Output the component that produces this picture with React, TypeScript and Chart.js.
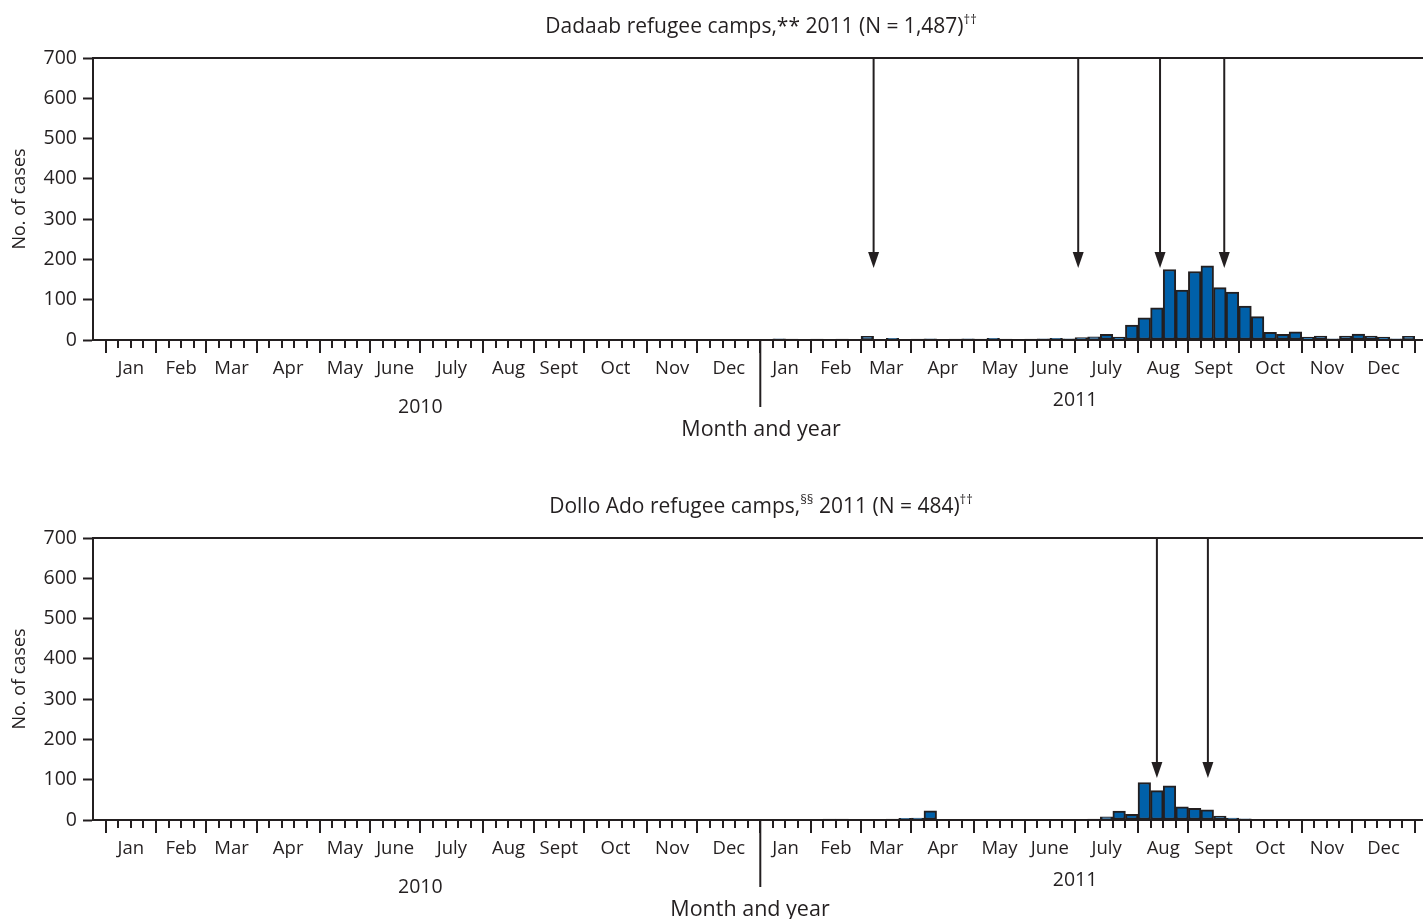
import React, { useEffect, useRef } from 'react';
import { Chart, registerables } from 'chart.js';

Chart.register(...registerables);

const MONTHS = ['Jan', 'Feb', 'Mar', 'Apr', 'May', 'June', 'July', 'Aug', 'Sept', 'Oct', 'Nov', 'Dec'];
const WEEKS_PER_MONTH = [4, 4, 4, 5, 4, 4, 5, 4, 4, 5, 4, 5];
const YEARS = ['2010', '2011'];
const Y_MAX = 700;
const Y_STEP = 100;

// weekly case counts (52 weeks per year)
const DADAAB_2010 = [
  0, 0, 0, 0, 0, 0, 0, 0, 0, 0, 0, 0, 0, 0, 0, 0, 0, 0, 0, 0, 0, 0, 0, 0, 0, 0,
  0, 0, 0, 0, 0, 0, 0, 0, 0, 0, 0, 0, 0, 0, 0, 0, 0, 0, 0, 0, 0, 0, 0, 0, 0, 0,
];
const DADAAB_2011 = [
  0, 3, 2, 1, 2, 1, 2, 1, 9, 1, 4, 1, 2, 3, 1, 2, 3, 2, 4, 2, 1, 2, 3, 4, 3, 6,
  8, 14, 7, 37, 55, 80, 175, 124, 170, 184, 130, 119, 84, 58, 19, 14, 20, 7, 10, 3, 10, 15, 10, 7, 3, 9,
];
const DOLLO_2010 = [
  0, 0, 0, 0, 0, 0, 0, 0, 0, 0, 0, 0, 0, 0, 0, 0, 0, 0, 0, 0, 0, 0, 0, 0, 0, 0,
  0, 0, 0, 0, 0, 0, 0, 0, 0, 0, 0, 0, 0, 0, 0, 0, 0, 0, 0, 0, 0, 0, 0, 0, 0, 0,
];
const DOLLO_2011 = [
  0, 0, 0, 1, 0, 2, 2, 0, 0, 0, 2, 4, 5, 23, 0, 0, 0, 0, 0, 0, 0, 0, 0, 0, 0, 0,
  2, 8, 22, 14, 93, 73, 85, 33, 29, 25, 10, 5, 3, 1, 0, 0, 0, 0, 0, 1, 1, 0, 0, 0, 0, 0,
];

// arrow markers: position in week slots (slot 0 = week before Jan 2010), tip value
const DADAAB_ARROW_WEEKS = [61.5, 77.75, 84.25, 89.35];
const DADAAB_ARROW_TIP = 179;
const DOLLO_ARROW_WEEKS = [84.0, 88.05];
const DOLLO_ARROW_TIP = 104;

const INK = '#231f20';
const BAR_FILL = '#0060a9';
const FONT = '"Open Sans", "DejaVu Sans", sans-serif';

type Part = { t: string; sup?: boolean };

const DADAAB_TITLE: Part[] = [
  { t: 'Dadaab refugee camps,**' },
  { t: ' 2011 (N = 1,487)' },
  { t: '††', sup: true },
];
const DOLLO_TITLE: Part[] = [
  { t: 'Dollo Ado refugee camps,' },
  { t: '§§', sup: true },
  { t: ' 2011 (N = 484)' },
  { t: '††', sup: true },
];

function buildSeries(y2010: number[], y2011: number[]) {
  const vals = [0, ...y2010, ...y2011];
  return vals.map((v) => (v === 0 ? null : v));
}

function monthBoundaries(): number[] {
  const res: number[] = [1];
  let b = 1;
  for (let y = 0; y < YEARS.length; y++) {
    for (const w of WEEKS_PER_MONTH) {
      b += w;
      res.push(b);
    }
  }
  return res;
}

function drawRich(ctx: CanvasRenderingContext2D, parts: Part[], cx: number, cy: number, size: number) {
  const supSize = Math.round(size * 0.6);
  let total = 0;
  const widths = parts.map((p) => {
    ctx.font = `${p.sup ? supSize : size}px ${FONT}`;
    const w = ctx.measureText(p.t).width;
    total += w;
    return w;
  });
  let x = cx - total / 2;
  ctx.textAlign = 'left';
  ctx.textBaseline = 'alphabetic';
  const base = cy + size * 0.36;
  parts.forEach((p, i) => {
    ctx.font = `${p.sup ? supSize : size}px ${FONT}`;
    ctx.fillText(p.t, x, p.sup ? base - size * 0.42 : base);
    x += widths[i];
  });
}

type PanelCfg = {
  title: Part[];
  arrows: number[];
  arrowTip: number;
  axisTitleX: number;
};

function makePlugin(cfg: PanelCfg) {
  return {
    id: 'panelDecor',
    afterDatasetsDraw(chart: any) {
      const ctx: CanvasRenderingContext2D = chart.ctx;
      const xs = chart.scales.x;
      const ys = chart.scales.y;
      const area = chart.chartArea;
      const W = chart.width;
      const y0 = ys.getPixelForValue(0);
      const slotX = (b: number) => xs.getPixelForValue(b - 0.5);
      ctx.save();
      ctx.strokeStyle = INK;
      ctx.fillStyle = INK;
      ctx.lineWidth = 2;
      ctx.beginPath();
      ctx.moveTo(area.left, area.top);
      ctx.lineTo(W, area.top);
      ctx.moveTo(area.left, y0);
      ctx.lineTo(W, y0);
      ctx.stroke();
      const bounds = monthBoundaries();
      const nSlots = xs.getLabels().length;
      for (let b = 1; b <= nSlots; b++) {
        const x = Math.round(slotX(b));
        const major = bounds.includes(b);
        ctx.beginPath();
        ctx.moveTo(x, y0);
        ctx.lineTo(x, y0 + (major ? 13 : 8));
        ctx.stroke();
      }
      const sep = slotX(1 + 52);
      ctx.beginPath();
      ctx.moveTo(sep, y0);
      ctx.lineTo(sep, y0 + 67);
      ctx.stroke();
      ctx.font = `18.5px ${FONT}`;
      ctx.textAlign = 'center';
      ctx.textBaseline = 'middle';
      let mi = 0;
      for (let y = 0; y < YEARS.length; y++) {
        for (let m = 0; m < 12; m++) {
          const a = slotX(bounds[mi]);
          const c = slotX(bounds[mi + 1]);
          ctx.fillText(MONTHS[m], (a + c) / 2, y0 + 28.5);
          mi++;
        }
      }
      ctx.font = `19.5px ${FONT}`;
      const slotW = slotX(2) - slotX(1);
      for (let y = 0; y < YEARS.length; y++) {
        const a = slotX(1 + 52 * y);
        const c = slotX(1 + 52 * (y + 1));
        ctx.fillText(YEARS[y], (a + c) / 2 - slotW, y0 + (y === 0 ? 67 : 60));
      }
      ctx.font = `21.5px ${FONT}`;
      ctx.fillText('Month and year', cfg.axisTitleX, y0 + 90);
      ctx.save();
      ctx.translate(20, (area.top + y0) / 2);
      ctx.rotate(-Math.PI / 2);
      ctx.font = `18px ${FONT}`;
      ctx.fillText('No. of cases', 0, 0);
      ctx.restore();
      drawRich(ctx, cfg.title, 761, area.top - 33, 21);
      const tipY = ys.getPixelForValue(cfg.arrowTip);
      for (const a of cfg.arrows) {
        const x = xs.getPixelForValue(a);
        ctx.beginPath();
        ctx.moveTo(x, area.top);
        ctx.lineTo(x, tipY - 12);
        ctx.stroke();
        ctx.beginPath();
        ctx.moveTo(x - 5.5, tipY - 16);
        ctx.lineTo(x + 5.5, tipY - 16);
        ctx.lineTo(x, tipY);
        ctx.closePath();
        ctx.fill();
      }
      ctx.restore();
    },
  };
}

function Panel(props: {
  values: (number | null)[];
  cfg: PanelCfg;
  top: number;
  height: number;
  padTop: number;
  padBottom: number;
}) {
  const ref = useRef<HTMLCanvasElement | null>(null);
  useEffect(() => {
    if (!ref.current) return;
    const labels = props.values.map((_, i) => String(i));
    const yTicks: number[] = [];
    for (let v = 0; v <= Y_MAX; v += Y_STEP) yTicks.push(v);
    const chart = new Chart(ref.current, {
      type: 'bar',
      data: {
        labels,
        datasets: [
          {
            data: props.values,
            backgroundColor: BAR_FILL,
            borderColor: INK,
            borderWidth: 2,
            borderSkipped: false,
            barPercentage: 1,
            categoryPercentage: 1,
          },
        ],
      },
      options: {
        responsive: false,
        animation: false,
        events: [],
        layout: { padding: { left: 0, right: 8, top: props.padTop, bottom: props.padBottom } },
        plugins: { legend: { display: false }, tooltip: { enabled: false }, title: { display: false } },
        scales: {
          x: { display: false, offset: true },
          y: {
            min: 0,
            max: Y_MAX,
            afterFit: (s: any) => {
              s.width = 93;
            },
            afterBuildTicks: (s: any) => {
              s.ticks = yTicks.map((v) => ({ value: v }));
            },
            ticks: {
              color: INK,
              font: { family: FONT, size: 19.5 },
              padding: 6,
            },
            grid: {
              drawOnChartArea: false,
              drawTicks: true,
              tickLength: 10,
              tickWidth: 2,
              tickColor: INK,
              color: INK,
            },
            border: { display: true, color: INK, width: 2 },
          },
        },
      },
      plugins: [makePlugin(props.cfg)],
    });
    return () => chart.destroy();
  }, []);
  return (
    <canvas
      ref={ref}
      width={1423}
      height={props.height}
      style={{ position: 'absolute', left: 0, top: props.top, width: 1423, height: props.height }}
    />
  );
}

export default function App() {
  return (
    <div style={{ position: 'fixed', left: 0, top: 0, width: 1423, height: 919, background: '#fff' }}>
      <Panel
        values={buildSeries(DADAAB_2010, DADAAB_2011)}
        cfg={{ title: DADAAB_TITLE, arrows: DADAAB_ARROW_WEEKS, arrowTip: DADAAB_ARROW_TIP, axisTitleX: 761 }}
        top={0}
        height={460}
        padTop={58}
        padBottom={120}
      />
      <Panel
        values={buildSeries(DOLLO_2010, DOLLO_2011)}
        cfg={{ title: DOLLO_TITLE, arrows: DOLLO_ARROW_WEEKS, arrowTip: DOLLO_ARROW_TIP, axisTitleX: 750 }}
        top={460}
        height={459}
        padTop={78}
        padBottom={99}
      />
    </div>
  );
}
